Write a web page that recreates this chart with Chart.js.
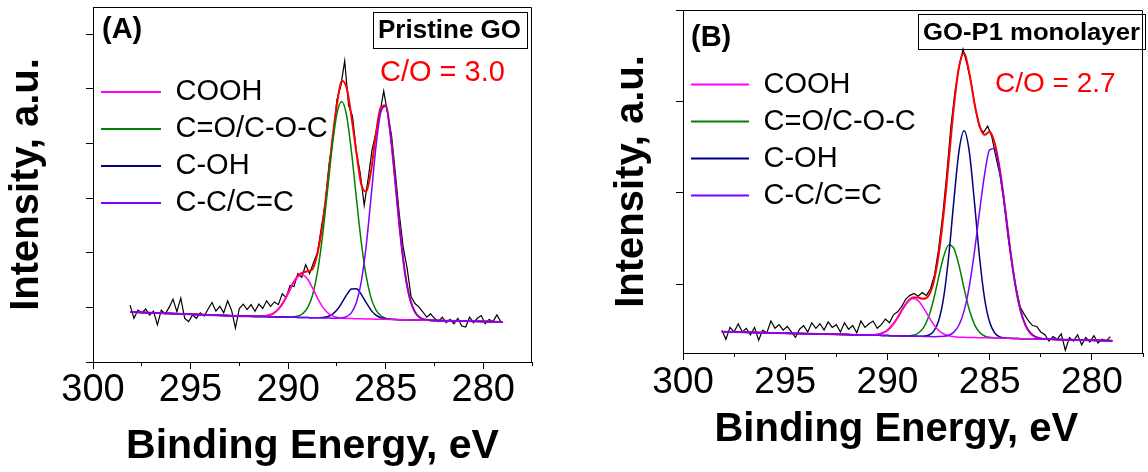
<!DOCTYPE html>
<html>
<head>
<meta charset="utf-8">
<script src="https://cdn.jsdelivr.net/npm/chart.js@4.4.1/dist/chart.umd.min.js"></script>
<style>
html,body{margin:0;padding:0;background:#fff;}
#wrap{position:relative;width:1148px;height:472px;overflow:hidden;font-family:"Liberation Sans",Arial,sans-serif;}
canvas{position:absolute;top:0;}
.lbl{position:absolute;white-space:nowrap;line-height:1;color:#000;}
.box{position:absolute;border:1px solid #000;box-sizing:border-box;}
</style>
</head>
<body>
<div id="wrap">
  <canvas id="cA" width="575" height="472" style="left:0px"></canvas>
  <canvas id="cB" width="573" height="472" style="left:575px"></canvas>

  <div class="lbl" style="left:102px;top:14px;font-size:29px;font-weight:bold">(A)</div>
  <div class="box" style="left:373px;top:12px;width:155px;height:37px"></div>
  <div class="lbl" style="left:378px;top:16px;font-size:26px;font-weight:bold">Pristine GO</div>
  <div class="lbl" style="left:380px;top:57px;font-size:29px;color:#ff0000">C/O = 3.0</div>

  <div class="lbl" style="left:691px;top:22px;font-size:29px;font-weight:bold">(B)</div>
  <div class="box" style="left:918px;top:14px;width:228px;height:36px"></div>
  <div class="lbl" style="left:923px;top:20px;font-size:24px;font-weight:bold;transform:scaleX(1.07);transform-origin:0 0">GO-P1 monolayer</div>
  <div class="lbl" style="left:995px;top:69px;font-size:28px;color:#ff0000">C/O = 2.7</div>
</div>

<script>
// ---------- data ----------
const componentNames = ['COOH', 'C=O/C-O-C', 'C-OH', 'C-C/C=C'];
const xTitle = 'Binding Energy, eV';
const yTitle = 'Intensity, a.u.';

// energy grid of the fitted curves (eV)
const fitEnergy = [298.1, 295, 292, 291.5, 291.25, 291, 290.75, 290.5, 290.25, 290,
  289.75, 289.5, 289.25, 289, 288.75, 288.5, 288.25, 288, 287.75, 287.5,
  287.25, 287, 286.75, 286.5, 286.25, 286, 285.75, 285.5, 285.25, 285,
  284.75, 284.5, 284.25, 284, 283.75, 283.5, 283.25, 283, 282.75, 282.5,
  282, 281, 279];

// ---- panel A: Pristine GO ----
const aCooh = [0.916, 0.876, 0.837, 0.836, 0.840, 0.855, 0.892, 0.967, 1.091, 1.258,
  1.433, 1.561, 1.593, 1.514, 1.356, 1.175, 1.019, 0.911, 0.848, 0.818,
  0.804, 0.798, 0.795, 0.793, 0.791, 0.789, 0.787, 0.785, 0.783, 0.781,
  0.779, 0.777, 0.775, 0.773, 0.771, 0.769, 0.767, 0.765, 0.763, 0.761,
  0.757, 0.749, 0.733];
const aEther = [0.916, 0.876, 0.837, 0.833, 0.831, 0.829, 0.827, 0.825, 0.823, 0.823,
  0.826, 0.841, 0.885, 0.994, 1.223, 1.635, 2.268, 3.076, 3.911, 4.544,
  4.769, 4.502, 3.840, 2.996, 2.193, 1.575, 1.174, 0.953, 0.847, 0.803,
  0.785, 0.779, 0.775, 0.773, 0.771, 0.769, 0.767, 0.765, 0.763, 0.761,
  0.757, 0.749, 0.733];
const aHydroxyl = [0.916, 0.876, 0.837, 0.833, 0.831, 0.829, 0.827, 0.825, 0.823, 0.821,
  0.819, 0.817, 0.815, 0.813, 0.811, 0.810, 0.814, 0.828, 0.868, 0.951,
  1.081, 1.228, 1.336, 1.340, 1.238, 1.089, 0.950, 0.857, 0.809, 0.789,
  0.781, 0.777, 0.775, 0.773, 0.771, 0.769, 0.767, 0.765, 0.763, 0.761,
  0.757, 0.749, 0.733];
const aGraphitic = [0.916, 0.876, 0.837, 0.833, 0.831, 0.829, 0.827, 0.825, 0.823, 0.821,
  0.819, 0.817, 0.815, 0.813, 0.811, 0.809, 0.807, 0.805, 0.803, 0.802,
  0.808, 0.831, 0.904, 1.088, 1.472, 2.124, 3.012, 3.935, 4.574, 4.680,
  4.152, 3.270, 2.341, 1.609, 1.150, 0.915, 0.815, 0.778, 0.766, 0.761,
  0.757, 0.749, 0.733];
const aEnvelope = [0.916, 0.876, 0.837, 0.836, 0.840, 0.855, 0.892, 0.967, 1.091, 1.260,
  1.440, 1.575, 1.640, 1.660, 1.700, 1.980, 2.487, 3.205, 4.021, 4.712,
  5.150, 5.020, 4.485, 3.834, 3.250, 3.120, 3.500, 4.175, 4.664, 4.700,
  4.160, 3.270, 2.341, 1.609, 1.150, 0.915, 0.815, 0.778, 0.766, 0.761,
  0.757, 0.749, 0.733];

// energy grid of the measured spectra (eV)
const dataEnergy = [298.1, 297.9, 297.7, 297.5, 297.3, 297.1, 296.9, 296.7, 296.5, 296.3,
  296.1, 295.9, 295.7, 295.5, 295.3, 295.1, 294.9, 294.7, 294.5, 294.3,
  294.1, 293.9, 293.7, 293.5, 293.3, 293.1, 292.9, 292.7, 292.5, 292.3,
  292.1, 291.9, 291.7, 291.5, 291.3, 291.1, 290.9, 290.7, 290.5, 290.3,
  290.1, 289.9, 289.7, 289.5, 289.3, 289.1, 288.9, 288.7, 288.5, 288.3,
  288.1, 287.9, 287.7, 287.5, 287.3, 287.1, 286.9, 286.7, 286.5, 286.3,
  286.1, 285.9, 285.7, 285.5, 285.3, 285.1, 284.9, 284.7, 284.5, 284.3,
  284.1, 283.9, 283.7, 283.5, 283.3, 283.1, 282.9, 282.7, 282.5, 282.3,
  282.1, 281.9, 281.7, 281.5, 281.3, 281.1, 280.9, 280.7, 280.5, 280.3,
  280.1, 279.9, 279.7, 279.5, 279.3, 279.1];

const aMeasured = [1.04, 0.80, 0.95, 0.90, 0.97, 0.86, 0.93, 0.68, 0.95, 0.88,
  1.00, 1.15, 0.92, 1.17, 0.80, 0.74, 0.86, 0.80, 0.90, 0.84,
  0.97, 1.09, 0.93, 1.02, 0.90, 1.12, 0.95, 0.62, 0.98, 1.06,
  0.96, 1.05, 0.93, 1.06, 0.98, 1.12, 1.02, 1.10, 1.05, 1.25,
  1.18, 1.40, 1.38, 1.62, 1.55, 1.78, 1.62, 1.82, 2.00, 2.45,
  2.90, 3.62, 4.10, 4.80, 5.05, 5.51, 4.70, 4.50, 3.85, 3.45,
  2.87, 3.35, 3.88, 4.20, 4.55, 4.96, 4.55, 4.15, 3.45, 2.70,
  2.10, 1.72, 1.20, 1.07, 1.01, 0.92, 0.82, 0.88, 0.80, 0.74,
  0.82, 0.72, 0.78, 0.70, 0.80, 0.66, 0.64, 0.82, 0.72, 0.80,
  0.85, 0.70, 0.78, 0.74, 0.86, 0.74];

// ---- panel B: GO-P1 monolayer ----
const bCooh = [-0.518, -0.534, -0.549, -0.552, -0.553, -0.553, -0.553, -0.547, -0.532, -0.501,
  -0.443, -0.361, -0.267, -0.189, -0.153, -0.177, -0.251, -0.346, -0.435, -0.501,
  -0.542, -0.562, -0.572, -0.577, -0.579, -0.580, -0.581, -0.583, -0.584, -0.585,
  -0.586, -0.588, -0.589, -0.590, -0.591, -0.593, -0.594, -0.595, -0.596, -0.598,
  -0.601, -0.606, -0.616];
const bEther = [-0.518, -0.534, -0.549, -0.552, -0.553, -0.554, -0.556, -0.557, -0.558, -0.560,
  -0.561, -0.562, -0.562, -0.562, -0.556, -0.534, -0.479, -0.363, -0.173, 0.074,
  0.306, 0.432, 0.393, 0.206, -0.046, -0.275, -0.434, -0.524, -0.564, -0.579,
  -0.585, -0.588, -0.589, -0.590, -0.591, -0.593, -0.594, -0.595, -0.596, -0.598,
  -0.601, -0.606, -0.616];
const bHydroxyl = [-0.518, -0.534, -0.549, -0.552, -0.553, -0.554, -0.556, -0.557, -0.558, -0.560,
  -0.561, -0.562, -0.563, -0.565, -0.566, -0.567, -0.566, -0.556, -0.516, -0.401,
  -0.142, 0.316, 0.918, 1.458, 1.679, 1.456, 0.913, 0.308, -0.152, -0.414,
  -0.531, -0.574, -0.586, -0.590, -0.591, -0.593, -0.594, -0.595, -0.596, -0.598,
  -0.601, -0.606, -0.616];
const bGraphitic = [-0.518, -0.534, -0.549, -0.552, -0.553, -0.554, -0.556, -0.557, -0.558, -0.560,
  -0.561, -0.562, -0.563, -0.565, -0.566, -0.567, -0.569, -0.570, -0.571, -0.570,
  -0.568, -0.556, -0.522, -0.444, -0.289, -0.027, 0.347, 0.788, 1.200, 1.470,
  1.485, 1.237, 0.836, 0.389, 0.001, -0.277, -0.446, -0.534, -0.574, -0.591,
  -0.600, -0.606, -0.616];
const bEnvelope = [-0.518, -0.534, -0.549, -0.552, -0.553, -0.553, -0.553, -0.547, -0.532, -0.501,
  -0.443, -0.361, -0.266, -0.186, -0.143, -0.144, -0.158, -0.126, 0.018, 0.318,
  0.776, 1.355, 1.946, 2.377, 2.530, 2.314, 1.988, 1.739, 1.635, 1.670,
  1.540, 1.251, 0.839, 0.389, 0.001, -0.277, -0.446, -0.534, -0.574, -0.591,
  -0.600, -0.606, -0.616];
const bMeasured = [-0.50, -0.60, -0.47, -0.52, -0.43, -0.52, -0.48, -0.55, -0.47, -0.61,
  -0.50, -0.53, -0.40, -0.48, -0.44, -0.50, -0.46, -0.52, -0.58, -0.49,
  -0.45, -0.52, -0.42, -0.48, -0.43, -0.50, -0.41, -0.47, -0.44, -0.52,
  -0.42, -0.49, -0.45, -0.53, -0.40, -0.47, -0.43, -0.40, -0.48, -0.44,
  -0.38, -0.42, -0.33, -0.30, -0.24, -0.16, -0.12, -0.10, -0.13, -0.09,
  -0.12, -0.05, 0.10, 0.38, 0.75, 1.20, 1.72, 2.10, 2.38, 2.57,
  2.40, 2.20, 1.92, 1.72, 1.66, 1.73, 1.62, 1.40, 1.20, 0.90,
  0.52, 0.20, -0.05, -0.25, -0.33, -0.40, -0.45, -0.46, -0.52, -0.55,
  -0.62, -0.57, -0.60, -0.54, -0.72, -0.58, -0.62, -0.55, -0.66, -0.58,
  -0.63, -0.56, -0.64, -0.60, -0.62, -0.57];

// ---------- chart construction ----------
const FONT = "'Liberation Sans', Arial, sans-serif";
const colors = { cooh: '#ff00ff', ether: '#008000', hydroxyl: '#000080', graphitic: '#8000ff', envelope: '#ff0000', measured: '#000000' };

function pts(xs, ys) { return xs.map((x, i) => ({ x: x, y: ys[i] })); }

const framePlugin = {
  id: 'frame',
  afterDraw(chart) {
    const { ctx, chartArea: { left, top, right, bottom } } = chart;
    ctx.save();
    ctx.strokeStyle = '#000';
    ctx.lineWidth = 1;
    ctx.beginPath();
    ctx.moveTo(Math.round(left), Math.round(top) + 0.5);
    ctx.lineTo(Math.round(right) - 0.5, Math.round(top) + 0.5);
    ctx.lineTo(Math.round(right) - 0.5, Math.round(bottom));
    ctx.stroke();
    ctx.restore();
  }
};

function makeChart(id, p) {
  const comp = (name, color, ys, order) => ({
    label: name, data: pts(fitEnergy, ys), borderColor: color, backgroundColor: color,
    borderWidth: 1.5, pointRadius: 0, fill: false, cubicInterpolationMode: 'monotone',
    order: order, xAxisID: 'x', yAxisID: 'y'
  });
  return new Chart(document.getElementById(id), {
    type: 'line',
    data: {
      datasets: [
        comp(componentNames[3], colors.graphitic, p.graphitic, 0),
        comp(componentNames[0], colors.cooh, p.cooh, 1),
        comp(componentNames[2], colors.hydroxyl, p.hydroxyl, 2),
        comp(componentNames[1], colors.ether, p.ether, 3),
        { label: 'Envelope', data: pts(fitEnergy, p.envelope), borderColor: colors.envelope, backgroundColor: colors.envelope,
          borderWidth: 2, pointRadius: 0, fill: false, cubicInterpolationMode: 'monotone', order: 4, xAxisID: 'x', yAxisID: 'y' },
        { label: 'Measured', data: pts(dataEnergy, p.measured), borderColor: colors.measured, backgroundColor: colors.measured,
          borderWidth: 1.2, pointRadius: 0, fill: false, tension: 0, order: 5, xAxisID: 'x', yAxisID: 'y' }
      ]
    },
    options: {
      responsive: false, maintainAspectRatio: false, animation: false, devicePixelRatio: 1,
      layout: { padding: { left: 0, right: p.padRight, top: p.padTop, bottom: 0 } },
      plugins: {
        tooltip: { enabled: false },
        legend: {
          display: true, position: 'chartArea', align: 'start',
          title: { display: true, text: '', padding: { top: p.legendTop, bottom: 0 }, font: { size: 1, lineHeight: 1 } },
          labels: {
            usePointStyle: true, pointStyle: 'line', pointStyleWidth: p.legendLine, padding: 8,
            color: '#000', font: { family: FONT, size: 29 },
            generateLabels(chart) {
              const items = Chart.defaults.plugins.legend.labels.generateLabels(chart);
              return componentNames.map(n => items.find(it => it.text === n))
                .map(it => Object.assign(it, { lineWidth: 2, pointStyle: 'line' }));
            }
          }
        }
      },
      scales: {
        xMinor: {
          type: 'linear', position: 'bottom', reverse: true, min: 277.5, max: 300, weight: 0,
          ticks: { display: false, stepSize: 2.5, includeBounds: false },
          grid: { drawOnChartArea: false, drawTicks: true, tickLength: 4, tickColor: '#000', color: '#000' },
          border: { display: false },
          afterFit(s) { s.height = 0; }
        },
        x: {
          type: 'linear', position: 'bottom', reverse: true, min: 277.5, max: 300, weight: 1,
          ticks: { stepSize: 5, includeBounds: false, autoSkip: false, maxRotation: 0, color: '#000',
            padding: p.tickPad, font: { family: FONT, size: p.tickFont, lineHeight: 1 },
            callback: v => String(v) },
          grid: { drawOnChartArea: false, drawTicks: true, tickLength: 7, tickColor: '#000', color: '#000' },
          border: { display: true, color: '#000', width: 1 },
          title: { display: true, text: xTitle + p.xTitleTrail, color: '#000',
            font: { family: FONT, size: p.xTitleFont, weight: 'bold', lineHeight: 1 },
            padding: { top: 0, bottom: p.xTitlePad } },
          afterFit(s) { s.height = p.xHeight; }
        },
        y: {
          type: 'linear', position: 'left', min: p.yMin, max: p.yMax,
          ticks: { display: false, stepSize: 1, includeBounds: false },
          grid: { drawOnChartArea: false, drawTicks: true, tickLength: 7, tickColor: '#000', color: '#000' },
          border: { display: true, color: '#000', width: 1 },
          title: { display: true, text: yTitle, color: '#000',
            font: { family: FONT, size: 40, weight: 'bold', lineHeight: 1 },
            padding: { top: p.yTitlePad, bottom: 0 } },
          afterFit(s) { s.width = p.yWidth; }
        }
      }
    },
    plugins: [framePlugin]
  });
}

makeChart('cA', {
  cooh: aCooh, ether: aEther, hydroxyl: aHydroxyl, graphitic: aGraphitic, envelope: aEnvelope, measured: aMeasured,
  yMin: 0, yMax: 6.5, padRight: 43, padTop: 7, xHeight: 110, yWidth: 93,
  tickFont: 38, tickPad: 3, xTitleFont: 41, xTitlePad: 4.5, xTitleTrail: '', yTitlePad: 7,
  legendTop: 68.5, legendLine: 60
});
makeChart('cB', {
  cooh: bCooh, ether: bEther, hydroxyl: bHydroxyl, graphitic: bGraphitic, envelope: bEnvelope, measured: bMeasured,
  yMin: -0.75, yMax: 3, padRight: 5, padTop: 10, xHeight: 119, yWidth: 108,
  tickFont: 37, tickPad: 4.5, xTitleFont: 40, xTitlePad: 22, xTitleTrail: '   ', yTitlePad: 37,
  legendTop: 61, legendLine: 58
});
</script>
</body>
</html>
